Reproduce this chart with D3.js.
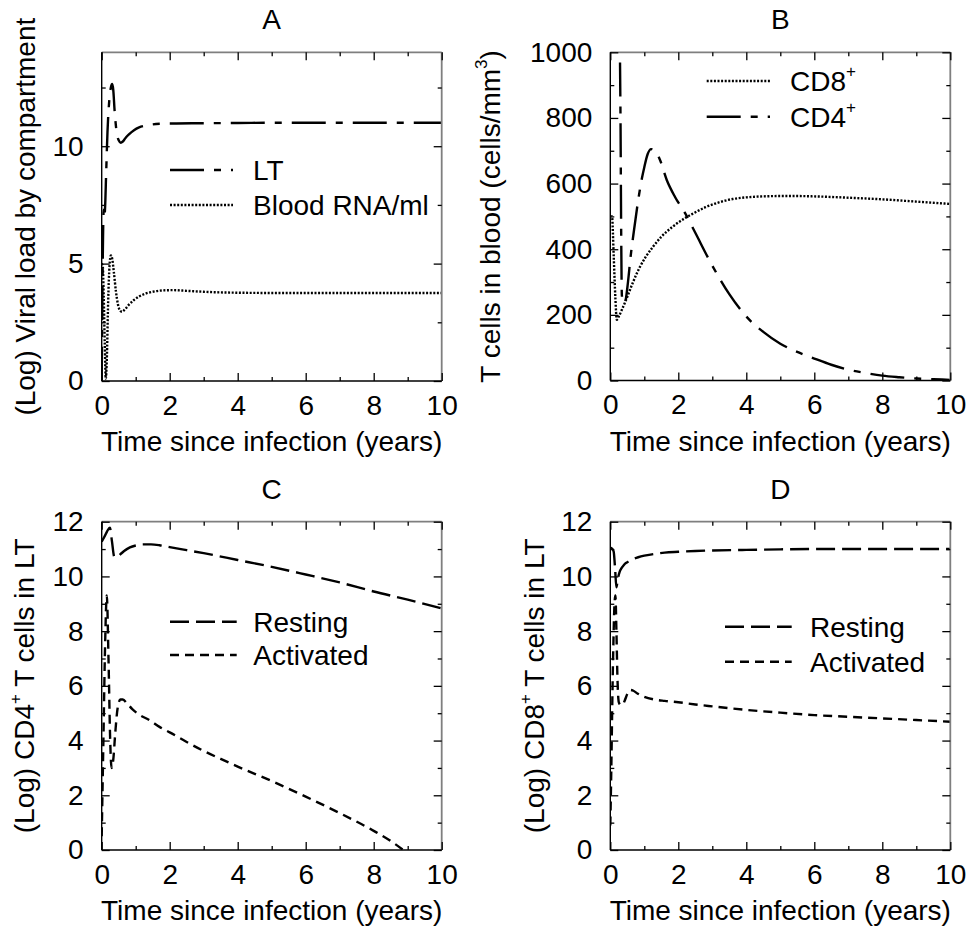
<!DOCTYPE html>
<html>
<head>
<meta charset="utf-8">
<script src="https://cdn.jsdelivr.net/npm/d3@7/dist/d3.min.js"></script>
<style>
  html, body { margin: 0; padding: 0; background: #fff; }
  svg { display: block; }
  text { font-family: "Liberation Sans", Arial, Helvetica, sans-serif; fill: #000; }
</style>
</head>
<body>
<svg id="chart" width="969" height="930"></svg>
<script>
// ---------------- DATA ----------------
const xTickLabels = [0, 2, 4, 6, 8, 10];
const xMinorTicks = [1, 3, 5, 7, 9];

const aYTicks = [0, 5, 10];
const aYMinor = [2.5, 7.5, 12.5];
const bYTicks = [0, 200, 400, 600, 800, 1000];
const bYMinor = [100, 300, 500, 700, 900];
const cdYTicks = [0, 2, 4, 6, 8, 10, 12];
const cdYMinor = [1, 3, 5, 7, 9, 11];

// Panel A: viral load
const ltT = [0, 0.02, 0.04, 0.06, 0.08, 0.1, 0.13, 0.17, 0.22, 0.27, 0.31, 0.34, 0.38, 0.44, 0.5, 0.56, 0.62, 0.7, 0.8, 0.95, 1.1, 1.3, 1.5, 1.8, 2.2, 3, 4, 5, 6, 7, 8, 9, 10];
const ltV = [0, 3.5, 6.2, 7.3, 7.0, 7.4, 8.8, 10.6, 11.9, 12.5, 12.65, 12.4, 11.5, 10.6, 10.25, 10.15, 10.2, 10.35, 10.5, 10.68, 10.8, 10.88, 10.93, 10.96, 10.97, 10.98, 10.99, 11.0, 11.0, 11.0, 11.0, 11.0, 11.0];
const bloodT = [0, 0.03, 0.06, 0.09, 0.12, 0.15, 0.19, 0.23, 0.27, 0.31, 0.36, 0.42, 0.48, 0.54, 0.6, 0.68, 0.8, 0.95, 1.1, 1.3, 1.5, 1.8, 2.1, 2.5, 3, 4, 5, 6, 7, 8, 9, 10];
const bloodV = [5.0, 4.9, 3.6, 1.6, 0.1, 0.9, 3.4, 4.9, 5.35, 5.2, 4.6, 3.8, 3.25, 3.0, 2.95, 3.05, 3.25, 3.45, 3.6, 3.73, 3.8, 3.86, 3.87, 3.84, 3.8, 3.76, 3.75, 3.75, 3.75, 3.75, 3.75, 3.75];

// Panel B: T cells in blood
const cd8T = [0, 0.05, 0.1, 0.15, 0.19, 0.25, 0.35, 0.48, 0.65, 0.87, 1.05, 1.26, 1.5, 1.85, 2.2, 2.44, 2.8, 3.03, 3.3, 3.6, 4.0, 4.5, 5.0, 5.5, 6.0, 7.0, 8.0, 9.0, 10];
const cd8V = [500, 500, 380, 250, 185, 195, 218, 250, 295, 346, 378, 408, 438, 470, 495, 509, 528, 537, 546, 553, 558, 561, 562, 562, 561, 557, 552, 545, 538];
const cd4T = [0, 0.1, 0.2, 0.27, 0.3, 0.32, 0.34, 0.37, 0.41, 0.46, 0.52, 0.6, 0.7, 0.8, 0.9, 1.0, 1.1, 1.2, 1.3, 1.45, 1.66, 1.9, 2.2, 2.5, 3.0, 3.5, 4.0, 4.5, 5.0, 5.5, 6.0, 6.5, 7.0, 7.5, 8.0, 8.5, 9.0, 9.5, 10];
const cd4V = [1150, 1120, 1090, 1060, 800, 450, 260, 238, 236, 250, 300, 380, 460, 535, 600, 650, 690, 705, 700, 675, 611, 560, 510, 450, 350, 263, 195, 148, 112, 87, 67, 48, 33, 23, 15, 10, 6, 4, 2];

// Panel C: CD4+ T cells in LT
const cRestT = [0, 0.08, 0.16, 0.24, 0.3, 0.37, 0.45, 0.54, 0.65, 0.83, 1.0, 1.22, 1.45, 1.7, 2.0, 2.5, 3, 4, 5, 6, 7, 8, 9, 10];
const cRestV = [11.27, 11.45, 11.65, 11.78, 11.3, 10.72, 10.7, 10.8, 10.92, 11.06, 11.13, 11.17, 11.17, 11.14, 11.07, 10.96, 10.85, 10.6, 10.35, 10.07, 9.78, 9.45, 9.15, 8.83];
const cActT = [0, 0.05, 0.1, 0.15, 0.2, 0.25, 0.29, 0.34, 0.4, 0.47, 0.55, 0.62, 0.75, 0.9, 1.1, 1.4, 1.7, 2.0, 2.5, 3.0, 3.5, 4.0, 5.0, 6.0, 7.0, 8.0, 8.5, 8.87];
const cActV = [0.5, 4.0, 7.5, 9.3, 7.0, 4.0, 3.0, 3.3, 4.3, 5.2, 5.5, 5.5, 5.35, 5.15, 4.95, 4.75, 4.5, 4.3, 3.95, 3.62, 3.33, 3.05, 2.52, 1.95, 1.35, 0.7, 0.33, 0];

// Panel D: CD8+ T cells in LT
const dRestT = [0, 0.06, 0.1, 0.14, 0.18, 0.22, 0.27, 0.33, 0.4, 0.5, 0.65, 0.82, 1.0, 1.3, 1.6, 2.0, 2.5, 3, 4, 5, 6, 7, 8, 9, 10];
const dRestV = [11.05, 11.0, 10.9, 10.3, 9.6, 9.9, 10.15, 10.3, 10.42, 10.52, 10.62, 10.7, 10.76, 10.82, 10.87, 10.9, 10.93, 10.95, 10.97, 10.99, 11.0, 11.0, 11.0, 11.0, 11.0];
const dActT = [0, 0.03, 0.06, 0.09, 0.12, 0.15, 0.18, 0.21, 0.25, 0.3, 0.36, 0.42, 0.5, 0.58, 0.68, 0.8, 1.0, 1.3, 1.6, 2.0, 2.5, 3, 4, 5, 6, 7, 8, 9, 10];
const dActV = [0.9, 3.0, 5.5, 7.5, 8.9, 9.3, 8.0, 6.3, 5.4, 5.3, 5.3, 5.45, 5.7, 5.85, 5.82, 5.72, 5.6, 5.5, 5.45, 5.4, 5.32, 5.25, 5.12, 5.02, 4.93, 4.87, 4.81, 4.75, 4.69];

// ---------------- STYLES ----------------
const STY = {
  dashdot: { dash: "34,10,7,10", width: 2.4 },
  dotted:  { dash: "2,1.6", width: 2.4 },
  longdash:{ dash: "19,7", width: 2.4 },
  shortdash:{ dash: "9,6", width: 2.4 }
};

const FS = 28;
const svg = d3.select("#chart");
svg.append("rect").attr("width", 969).attr("height", 930).attr("fill", "#fff");

function drawPanel(cfg, idx) {
  const x = d3.scaleLinear().domain([0, 10]).range([cfg.x0, cfg.x1]);
  const y = d3.scaleLinear().domain(cfg.yDomain).range([cfg.y1, cfg.y0]);
  const g = svg.append("g");

  const clipId = "clip" + idx;
  svg.append("clipPath").attr("id", clipId).append("rect")
    .attr("x", cfg.x0).attr("y", cfg.y0)
    .attr("width", cfg.x1 - cfg.x0).attr("height", cfg.y1 - cfg.y0);

  // series
  const line = d3.line().x(d => x(d[0])).y(d => y(d[1])).curve(d3.curveMonotoneX);
  const sg = g.append("g").attr("clip-path", `url(#${clipId})`);
  cfg.series.forEach(s => {
    const st = STY[s.style];
    sg.append("path").datum(d3.zip(s.t, s.v))
      .attr("d", line).attr("fill", "none").attr("stroke", "#000")
      .attr("stroke-width", st.width).attr("stroke-dasharray", st.dash)
      .attr("stroke-linejoin", "round");
  });

  // frame
  g.append("line").attr("x1", cfg.x0).attr("x2", cfg.x1).attr("y1", cfg.y0).attr("y2", cfg.y0)
    .attr("stroke", "#7f7f7f").attr("stroke-width", 1.8);
  g.append("line").attr("x1", cfg.x1).attr("x2", cfg.x1).attr("y1", cfg.y0).attr("y2", cfg.y1)
    .attr("stroke", "#7f7f7f").attr("stroke-width", 1.8);
  g.append("line").attr("x1", cfg.x0).attr("x2", cfg.x1).attr("y1", cfg.y1).attr("y2", cfg.y1)
    .attr("stroke", "#000").attr("stroke-width", 1.4);
  g.append("line").attr("x1", cfg.x0).attr("x2", cfg.x0).attr("y1", cfg.y0).attr("y2", cfg.y1)
    .attr("stroke", "#000").attr("stroke-width", 1.4);

  function styleAxis(sel) {
    sel.select(".domain").remove();
    sel.selectAll(".tick line").attr("stroke", "#000").attr("stroke-width", 1.3);
    sel.selectAll(".tick text").attr("font-size", FS).attr("fill", "#000")
      .style("font-family", '"Liberation Sans", Arial, Helvetica, sans-serif');
  }
  const MAJ = 8, MIN = 4;
  // bottom
  g.append("g").attr("transform", `translate(0,${cfg.y1})`)
    .call(d3.axisBottom(x).tickValues(xTickLabels).tickSize(-MAJ).tickPadding(14).tickFormat(d3.format("d")))
    .call(styleAxis);
  g.append("g").attr("transform", `translate(0,${cfg.y1})`)
    .call(d3.axisBottom(x).tickValues(xMinorTicks).tickSize(-MIN).tickFormat(""))
    .call(styleAxis);
  // top
  g.append("g").attr("transform", `translate(0,${cfg.y0})`)
    .call(d3.axisTop(x).tickValues(xTickLabels).tickSize(-MAJ).tickFormat(""))
    .call(styleAxis);
  g.append("g").attr("transform", `translate(0,${cfg.y0})`)
    .call(d3.axisTop(x).tickValues(xMinorTicks).tickSize(-MIN).tickFormat(""))
    .call(styleAxis);
  // left
  g.append("g").attr("transform", `translate(${cfg.x0},0)`)
    .call(d3.axisLeft(y).tickValues(cfg.yTicks).tickSize(-MAJ).tickPadding(18).tickFormat(d3.format("d")))
    .call(styleAxis);
  g.append("g").attr("transform", `translate(${cfg.x0},0)`)
    .call(d3.axisLeft(y).tickValues(cfg.yMinor).tickSize(-MIN).tickFormat(""))
    .call(styleAxis);
  // right
  g.append("g").attr("transform", `translate(${cfg.x1},0)`)
    .call(d3.axisRight(y).tickValues(cfg.yTicks).tickSize(-MAJ).tickFormat(""))
    .call(styleAxis);
  g.append("g").attr("transform", `translate(${cfg.x1},0)`)
    .call(d3.axisRight(y).tickValues(cfg.yMinor).tickSize(-MIN).tickFormat(""))
    .call(styleAxis);

  // title
  g.append("text").attr("x", (cfg.x0 + cfg.x1) / 2).attr("y", cfg.y0 - 23)
    .attr("text-anchor", "middle").attr("font-size", FS).text(cfg.title);

  // x label
  g.append("text").attr("x", (cfg.x0 + cfg.x1) / 2).attr("y", cfg.y1 + 70)
    .attr("text-anchor", "middle").attr("font-size", FS).text("Time since infection (years)");

  // y label
  const yl = g.append("text")
    .attr("transform", `translate(${cfg.ylabelX},${(cfg.y0 + cfg.y1) / 2}) rotate(-90)`)
    .attr("text-anchor", "middle").attr("font-size", FS);
  cfg.ylabel.forEach(p => {
    const ts = yl.append("tspan").text(p.text);
    if (p.sup) ts.attr("font-size", 17).attr("dy", -13);
    if (p.after) ts.attr("dy", 13);
  });

  // legend
  cfg.legend.forEach(L => {
    const st = STY[L.style];
    g.append("line").attr("x1", L.x1).attr("x2", L.x2).attr("y1", L.y).attr("y2", L.y)
      .attr("stroke", "#000").attr("stroke-width", st.width).attr("stroke-dasharray", st.dash);
    const t = g.append("text").attr("x", L.tx).attr("y", L.y + 10).attr("font-size", FS);
    t.append("tspan").text(L.label);
    if (L.sup) t.append("tspan").attr("font-size", 17).attr("dy", -14).text(L.sup);
  });
}

const panels = [
  {
    x0: 101.7, x1: 441.7, y0: 52.3, y1: 381, yDomain: [0, 14],
    yTicks: aYTicks, yMinor: aYMinor, title: "A", ylabelX: 35,
    ylabel: [{ text: "(Log) Viral load by compartment" }],
    series: [
      { t: ltT, v: ltV, style: "dashdot" },
      { t: bloodT, v: bloodV, style: "dotted" }
    ],
    legend: [
      { label: "LT", style: "dashdot", x1: 170, x2: 233, y: 170, tx: 253 },
      { label: "Blood RNA/ml", style: "dotted", x1: 170, x2: 233, y: 205, tx: 253 }
    ]
  },
  {
    x0: 610.3, x1: 950.3, y0: 52.3, y1: 380.5, yDomain: [0, 1000],
    yTicks: bYTicks, yMinor: bYMinor, title: "B", ylabelX: 500,
    ylabel: [{ text: "T cells in blood (cells/mm" }, { text: "3", sup: true }, { text: ")", after: true }],
    series: [
      { t: cd8T, v: cd8V, style: "dotted" },
      { t: cd4T, v: cd4V, style: "dashdot" }
    ],
    legend: [
      { label: "CD8", sup: "+", style: "dotted", x1: 706.7, x2: 770, y: 81, tx: 790 },
      { label: "CD4", sup: "+", style: "dashdot", x1: 706.7, x2: 770, y: 116.7, tx: 790 }
    ]
  },
  {
    x0: 101.7, x1: 441.7, y0: 521.7, y1: 850, yDomain: [0, 12],
    yTicks: cdYTicks, yMinor: cdYMinor, title: "C", ylabelX: 34,
    ylabel: [{ text: "(Log) CD4" }, { text: "+", sup: true }, { text: " T cells in LT", after: true }],
    series: [
      { t: cRestT, v: cRestV, style: "longdash" },
      { t: cActT, v: cActV, style: "shortdash" }
    ],
    legend: [
      { label: "Resting", style: "longdash", x1: 170, x2: 236.7, y: 621.7, tx: 253.3 },
      { label: "Activated", style: "shortdash", x1: 170, x2: 236.7, y: 655, tx: 253.3 }
    ]
  },
  {
    x0: 610.3, x1: 950.3, y0: 521.7, y1: 850, yDomain: [0, 12],
    yTicks: cdYTicks, yMinor: cdYMinor, title: "D", ylabelX: 544,
    ylabel: [{ text: "(Log) CD8" }, { text: "+", sup: true }, { text: " T cells in LT", after: true }],
    series: [
      { t: dRestT, v: dRestV, style: "longdash" },
      { t: dActT, v: dActV, style: "shortdash" }
    ],
    legend: [
      { label: "Resting", style: "longdash", x1: 725, x2: 791.7, y: 626.7, tx: 810 },
      { label: "Activated", style: "shortdash", x1: 725, x2: 791.7, y: 661.7, tx: 810 }
    ]
  }
];

panels.forEach((p, i) => drawPanel(p, i));
</script>
</body>
</html>
